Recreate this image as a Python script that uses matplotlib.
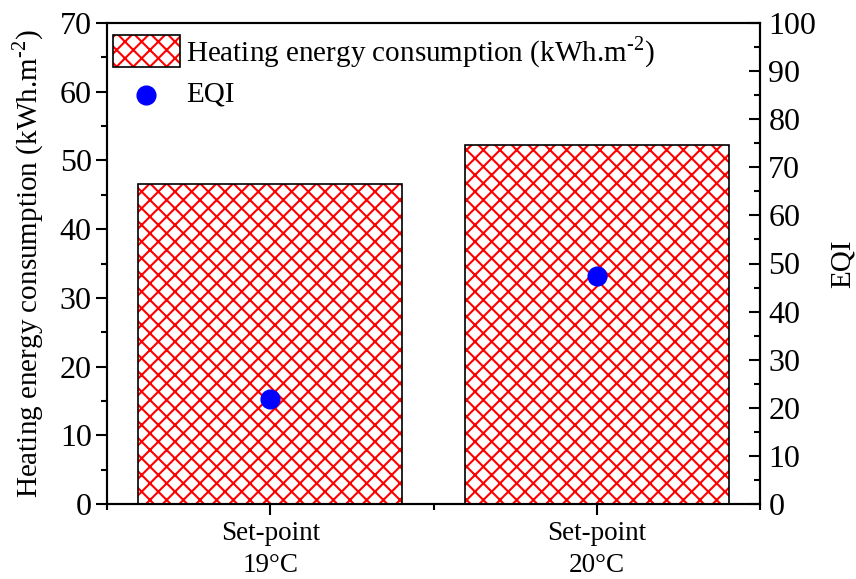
import matplotlib
matplotlib.use("Agg")
import matplotlib.pyplot as plt
from matplotlib.patches import Patch, Rectangle
from matplotlib.lines import Line2D
from matplotlib.legend_handler import HandlerTuple, HandlerPatch, HandlerLine2D
from matplotlib.ticker import MultipleLocator, FixedLocator

plt.rcParams["font.family"] = ["Liberation Serif", "DejaVu Serif"]
plt.rcParams["mathtext.fontset"] = "custom"
plt.rcParams["mathtext.rm"] = "Liberation Serif"
plt.rcParams["hatch.linewidth"] = 1.5

categories = ["Set-point\n19°C", "Set-point\n20°C"]
heating = [46.6, 52.3]
eqi = [21.9, 47.4]
unit_label = "Heating energy consumption (kWh.m$^{\u2010 2}$)"


def tall_box(legend, orig_handle, xdescent, ydescent, width, height, fontsize):
    return Rectangle((-xdescent, -ydescent - 1.5), width, height + 3)


class LowMarker(HandlerLine2D):
    # push the legend dot down so it sits level with the text
    def create_artists(self, legend, orig_handle, xdescent, ydescent, width, height, fontsize, trans):
        return super().create_artists(legend, orig_handle, xdescent, ydescent + 8,
                                      width, height, fontsize, trans)


fig = plt.figure(figsize=(8.56, 5.79), dpi=100)
ax = fig.add_axes([107 / 856, 75 / 579, 653 / 856, 481 / 579])
ax2 = ax.twinx()

x = [1, 2]
# hatch layer in red, then black outline on top
ax.bar(x, heating, width=0.81, color="white", edgecolor="red", hatch="xx", linewidth=0, zorder=2)
ax.bar(x, heating, width=0.81, fill=False, edgecolor="black", linewidth=1.2, zorder=3)

ax2.plot(x, eqi, "o", color="#0000ff", markersize=13.5, zorder=5)

ax.set_xlim(0.5, 2.5)
ax.set_ylim(0, 70)
ax2.set_ylim(0, 100)

ax.set_xticks(x)
ax.set_xticklabels(categories, fontsize=19.5, linespacing=1.4)
ax.xaxis.set_minor_locator(FixedLocator([0.5, 1.5, 2.5]))
ax.yaxis.set_major_locator(MultipleLocator(10))
ax.yaxis.set_minor_locator(MultipleLocator(5))
ax2.yaxis.set_major_locator(MultipleLocator(10))
ax2.yaxis.set_minor_locator(MultipleLocator(5))

ax.tick_params(axis="y", which="major", direction="out", length=8, width=1.5, labelsize=23, pad=3)
ax.tick_params(axis="y", which="minor", direction="out", length=4, width=1.5)
ax.tick_params(axis="x", which="major", direction="out", length=8, width=1.5, pad=4)
ax.tick_params(axis="x", which="minor", direction="out", length=4, width=1.5)
ax2.tick_params(axis="y", which="major", direction="in", length=8, width=1.5, labelsize=23, pad=6)
ax2.tick_params(axis="y", which="minor", direction="in", length=4, width=1.5)

for a in (ax, ax2):
    for s in a.spines.values():
        s.set_linewidth(1.5)

ax.set_ylabel(unit_label, fontsize=21, labelpad=10)
ax2.set_ylabel("EQI", fontsize=21, labelpad=10)

bar_handle = (
    Patch(facecolor="white", edgecolor="red", hatch="xx", linewidth=0),
    Patch(fill=False, edgecolor="black", linewidth=1.2),
)
dot_handle = Line2D([], [], marker="o", linestyle="none", color="#0000ff", markersize=13.5)
leg = ax.legend([bar_handle, dot_handle], [unit_label, "EQI"],
                handler_map={tuple: HandlerTuple(ndivide=1, pad=0),
                             Patch: HandlerPatch(patch_func=tall_box),
                             Line2D: LowMarker()},
                loc="upper left", bbox_to_anchor=(-0.009, 1.0), frameon=False, fontsize=21,
                handlelength=2.3, handleheight=1.1, handletextpad=0.2,
                borderaxespad=0.1, borderpad=0.3, labelspacing=0.25)
ax2.set_zorder(ax.get_zorder() + 1)
ax2.patch.set_visible(False)

fig.savefig("out.png", dpi=100)
